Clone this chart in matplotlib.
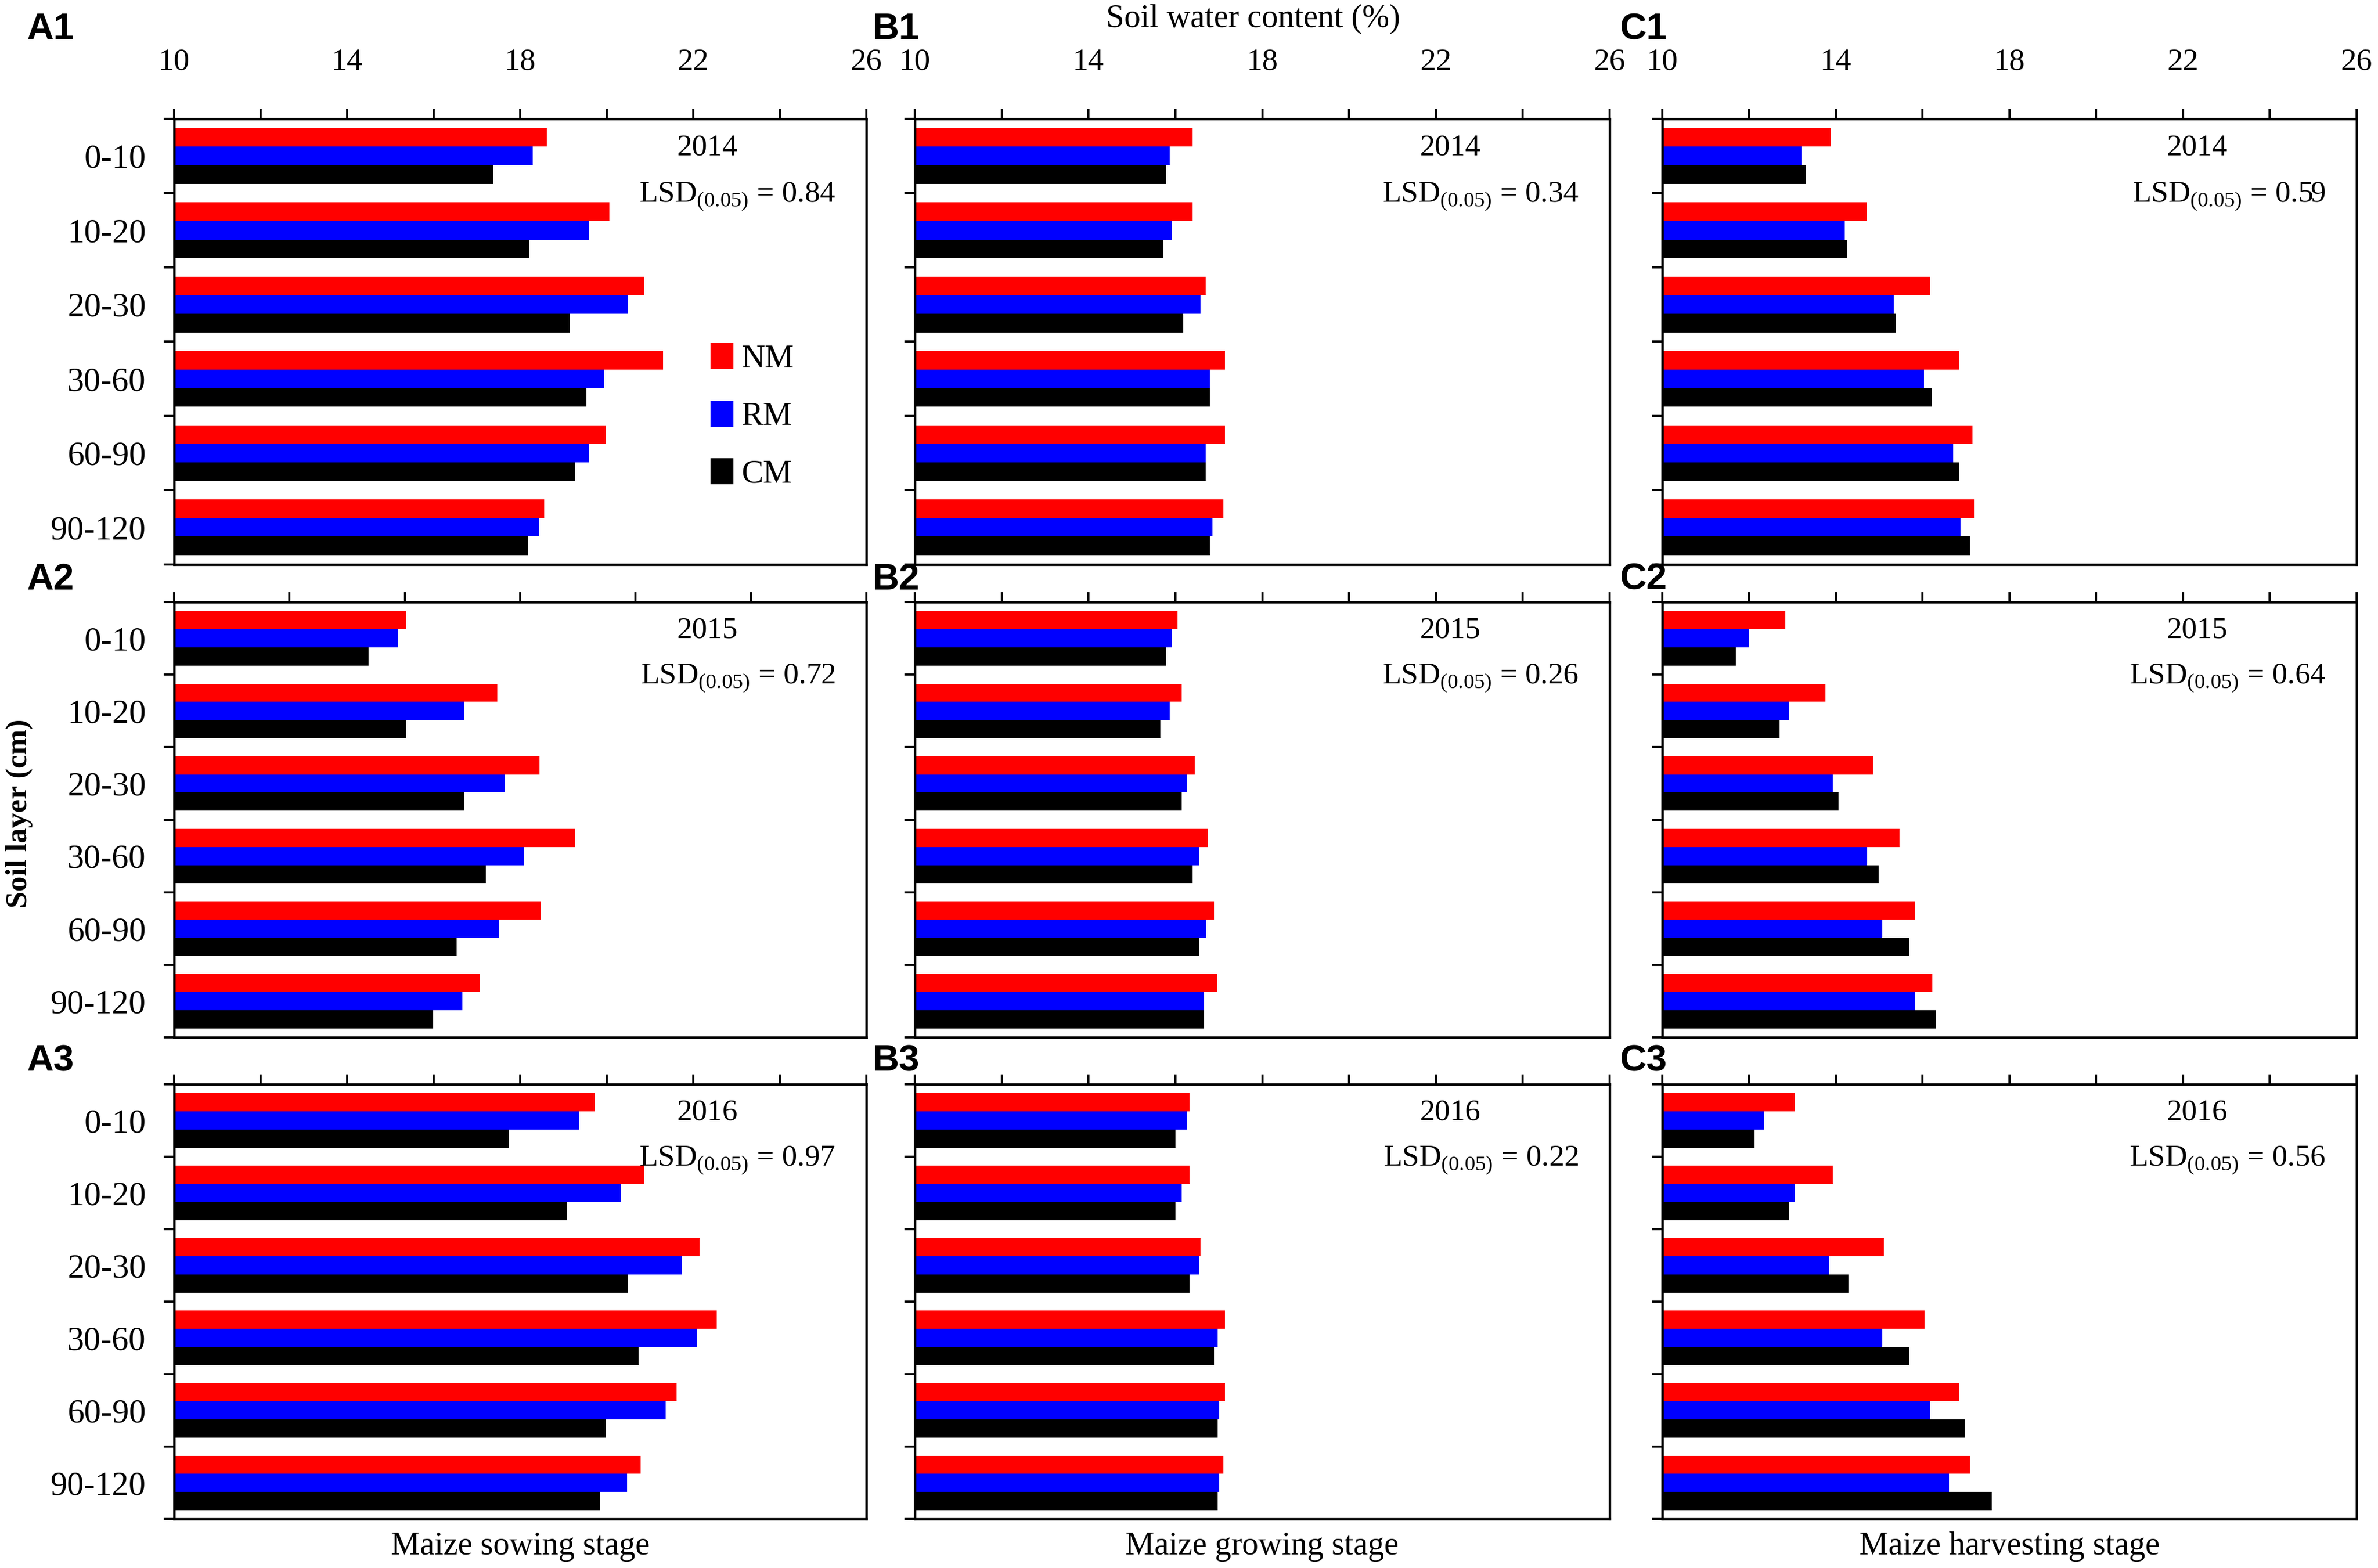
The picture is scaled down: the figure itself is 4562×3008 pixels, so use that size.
import numpy as np
import matplotlib
matplotlib.use('Agg')
import matplotlib.pyplot as plt
from matplotlib.patches import Patch

plt.rcParams['font.family'] = 'Liberation Serif'
plt.rcParams['mathtext.fontset'] = 'custom'
plt.rcParams['mathtext.rm'] = 'Liberation Serif'

# --- DATA (soil water content, %) ---
layers = ['0-10', '10-20', '20-30', '30-60', '60-90', '90-120']
years = ['2014', '2015', '2016']
stages = ['Maize sowing stage', 'Maize growing stage', 'Maize harvesting stage']
treatments = ['NM', 'RM', 'CM']
lsd = [[0.84, 0.34, 0.59], [0.72, 0.26, 0.64], [0.97, 0.22, 0.56]]   # rows = years, cols = stages
panel_tags = [['A1', 'B1', 'C1'], ['A2', 'B2', 'C2'], ['A3', 'B3', 'C3']]

# each list: [2014, 2015, 2016], inner lists follow the soil layers
nm_sowing = [[18.61, 20.06, 20.87, 21.30, 19.98, 18.55],
             [15.36, 17.47, 18.45, 19.27, 18.48, 17.07],
             [19.72, 20.87, 22.15, 22.54, 21.61, 20.78]]
rm_sowing = [[18.29, 19.59, 20.50, 19.94, 19.59, 18.44],
             [15.17, 16.71, 17.64, 18.08, 17.51, 16.66],
             [19.36, 20.33, 21.74, 22.09, 21.36, 20.47]]
cm_sowing = [[17.37, 18.20, 19.14, 19.53, 19.27, 18.18],
             [14.49, 15.36, 16.71, 17.20, 16.53, 15.99],
             [17.73, 19.09, 20.50, 20.74, 19.98, 19.85]]

nm_growing = [[16.40, 16.40, 16.70, 17.14, 17.14, 17.11],
              [16.05, 16.15, 16.44, 16.75, 16.89, 16.96],
              [16.32, 16.32, 16.58, 17.14, 17.14, 17.11]]
rm_growing = [[15.87, 15.92, 16.58, 16.79, 16.70, 16.85],
              [15.92, 15.87, 16.27, 16.54, 16.71, 16.66],
              [16.27, 16.15, 16.54, 16.97, 17.01, 17.01]]
cm_growing = [[15.79, 15.73, 16.18, 16.79, 16.70, 16.79],
              [15.79, 15.65, 16.15, 16.40, 16.54, 16.66],
              [16.00, 16.00, 16.32, 16.89, 16.97, 16.97]]

nm_harvest = [[13.88, 14.71, 16.17, 16.84, 17.15, 17.18],
              [12.84, 13.76, 14.86, 15.47, 15.83, 16.22],
              [13.05, 13.93, 15.11, 16.04, 16.84, 17.09]]
rm_harvest = [[13.22, 14.20, 15.34, 16.03, 16.70, 16.87],
              [11.99, 12.92, 13.93, 14.72, 15.07, 15.83],
              [12.35, 13.05, 13.85, 15.07, 16.18, 16.61]]
cm_harvest = [[13.31, 14.27, 15.38, 16.21, 16.84, 17.09],
              [11.69, 12.71, 14.06, 14.99, 15.70, 16.31],
              [12.13, 12.92, 14.29, 15.70, 16.97, 17.59]]

stage_data = [(nm_sowing, rm_sowing, cm_sowing),
              (nm_growing, rm_growing, cm_growing),
              (nm_harvest, rm_harvest, cm_harvest)]

# --- STYLE / LAYOUT ---
colors = ['#ff0000', '#0000ff', '#000000']
bar_h = 0.25
col_left = [0.0732, 0.3847, 0.699]
col_w = [0.2911, 0.2922, 0.292]
row_bottom = [0.640, 0.3384, 0.0312]
row_h = [0.2842, 0.2776, 0.2773]
tag_y = [0.981, 0.630, 0.323]

fig = plt.figure(figsize=(4562 / 300, 3008 / 300))

y = np.arange(len(layers))
for r in range(3):
    for c in range(3):
        ax = fig.add_axes([col_left[c], row_bottom[r], col_w[c], row_h[r]])
        for k, series in enumerate(stage_data[c]):
            ax.barh(y + (k - 1) * bar_h, series[r], height=bar_h,
                    color=colors[k], edgecolor='none')
        ax.set_xlim(10, 26)
        ax.set_ylim(5.5, -0.5)

        # x axis on top
        ax.xaxis.set_ticks_position('top')
        if r == 1 and c == 0:
            ax.set_xticks(np.linspace(10, 26, 7))
        else:
            ax.set_xticks(np.arange(10, 27, 2))
        if r == 0:
            ax.set_xticks(np.arange(10, 27, 4))
            ax.set_xticks(np.arange(12, 26, 4), minor=True)
            ax.xaxis.set_tick_params(which='both', labeltop=True)
            ax.tick_params(axis='x', which='major', labelsize=14.5, pad=15)
        else:
            ax.tick_params(axis='x', labeltop=False)
        ax.tick_params(axis='x', which='both', direction='out', length=4.5, width=1.0)

        # y axis: labels at group centres, ticks at group boundaries
        ax.set_yticks(y)
        ax.set_yticks(np.arange(-0.5, 6, 1), minor=True)
        ax.tick_params(axis='y', which='major', length=0, pad=13, labelsize=15.5)
        ax.tick_params(axis='y', which='minor', direction='out', length=4.8, width=1.0)
        if c == 0:
            ax.set_yticklabels(layers)
        else:
            ax.set_yticklabels([])

        for s in ax.spines.values():
            s.set_linewidth(1.1)

        ax.text(0.77, 0.935, years[r], transform=ax.transAxes, ha='center', va='center', fontsize=14)
        ax.text(0.955, 0.825, r'LSD$_{(0.05)}$ = %.2f' % lsd[r][c], transform=ax.transAxes,
                ha='right', va='center', fontsize=14)

        fig.text(col_left[c] - 0.062 if c == 0 else col_left[c] - 0.018, tag_y[r], panel_tags[r][c],
                 family='Liberation Sans', weight='bold', fontsize=17, ha='left', va='center')

        if r == 0 and c == 0:
            handles = [Patch(facecolor=colors[k], edgecolor='none') for k in range(3)]
            ax.legend(handles, treatments, loc='center left', bbox_to_anchor=(0.775, 0.332),
                      frameon=False, handlelength=0.7, handleheight=0.85, handletextpad=0.25,
                      labelspacing=0.8, fontsize=15, borderpad=0, borderaxespad=0)

        if r == 2:
            fig.text(col_left[c] + col_w[c] / 2, 0.0136, stages[c], ha='center', va='center', fontsize=15)

fig.text(0.527, 0.988, 'Soil water content (%)', ha='center', va='center', fontsize=15)
fig.text(0.008, 0.481, 'Soil layer (cm)', rotation=90, ha='center', va='center', fontsize=14, weight='bold')

fig.savefig('out.png', dpi=300)
